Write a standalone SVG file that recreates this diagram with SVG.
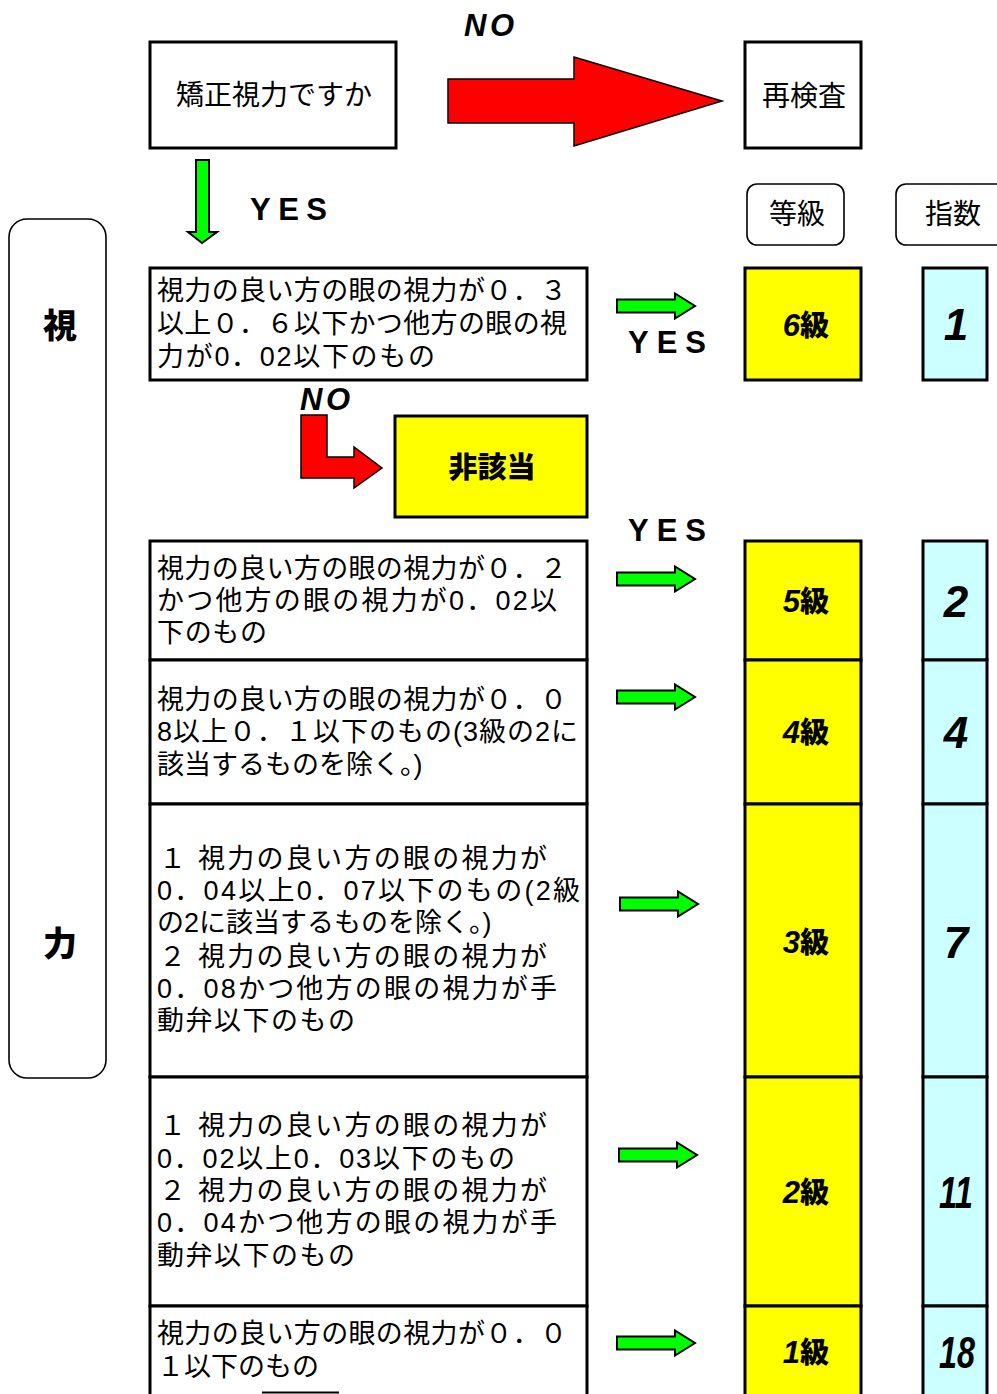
<svg xmlns="http://www.w3.org/2000/svg" width="997" height="1394" viewBox="0 0 997 1394">
<style>
.box{fill:#fff;stroke:#000;stroke-width:3}
.yel{fill:#ffff00;stroke:#000;stroke-width:3}
.cyan{fill:#ccffff;stroke:#000;stroke-width:3}
.rbox{fill:#fff;stroke:#000;stroke-width:1.6}
.t{font-family:"Liberation Sans","Noto Sans CJK JP",sans-serif;font-size:27px;fill:#000}
.h{font-family:"Noto Sans CJK JP","Noto Sans",sans-serif;font-size:28px;fill:#000;text-anchor:middle}
.g{font-family:"Noto Sans CJK JP","Noto Sans",sans-serif;font-size:29px;font-weight:900;fill:#000;text-anchor:middle}
.d{font-family:"Liberation Sans","Noto Sans",sans-serif;font-size:31px;font-weight:bold;font-style:italic}
.num{font-family:"Liberation Sans","Noto Sans",sans-serif;font-size:44px;font-weight:bold;font-style:italic;fill:#000;text-anchor:middle}
.yn{font-family:"Liberation Sans","Noto Sans",sans-serif;font-size:31px;font-weight:bold;fill:#000}
.green{fill:#00ff00;stroke:#000;stroke-width:2}
.red{fill:#ff0000;stroke:#000;stroke-width:1.5}
</style>
<defs>
<polygon id="garrow" points="0,-6.5 58,-6.5 58,-12.5 78,0 58,12.5 58,6.5 0,6.5" class="green"/>
</defs>

<g id="sidebar">
<rect x="9" y="219" width="97" height="859" rx="18" class="rbox"/>
<text x="60" y="338" class="g" style="font-size:34px">視</text>
<text x="60" y="956" class="g" style="font-size:34px">力</text>
</g>

<g id="start">
<rect x="150" y="42" width="246" height="106" class="box"/>
<text x="274" y="105" class="h">矯正視力ですか</text>
</g>

<g id="recheck">
<rect x="745" y="42" width="116" height="106" class="box"/>
<text x="804" y="106" class="h">再検査</text>
</g>

<g id="hdr-grade">
<rect x="747" y="184" width="97" height="61" rx="10" class="rbox"/>
<text x="797" y="224" class="h">等級</text>
</g>
<g id="hdr-index">
<rect x="896" y="184" width="112" height="61" rx="10" class="rbox"/>
<text x="953" y="224" class="h">指数</text>
</g>

<g id="c6">
<rect x="150" y="268" width="437" height="112" class="box"/>
<text class="t" x="157" y="300" textLength="410" lengthAdjust="spacing">視力の良い方の眼の視力が０．３</text>
<text class="t" x="157" y="333" textLength="410" lengthAdjust="spacing">以上０．６以下かつ他方の眼の視</text>
<text class="t" x="157" y="366" textLength="278" lengthAdjust="spacing">力が0．02以下のもの</text>
</g>
<g id="g6">
<rect x="745" y="268" width="116" height="112" class="yel"/>
<text x="806" y="336" class="g"><tspan class="d">6</tspan><tspan>級</tspan></text>
</g>
<g id="i6">
<rect x="923" y="268" width="64" height="112" class="cyan"/>
<text x="956" y="340" class="num">1</text>
</g>

<g id="na">
<rect x="395" y="416" width="192" height="101" class="yel"/>
<text x="492" y="478" class="g">非該当</text>
</g>

<g id="c5">
<rect x="150" y="541" width="437" height="119" class="box"/>
<text class="t" x="157" y="578" textLength="410" lengthAdjust="spacing">視力の良い方の眼の視力が０．２</text>
<text class="t" x="157" y="610" textLength="400" lengthAdjust="spacing">かつ他方の眼の視力が0．02以</text>
<text class="t" x="157" y="642" textLength="110" lengthAdjust="spacing">下のもの</text>
</g>
<g id="c4">
<rect x="150" y="660" width="437" height="144" class="box"/>
<text class="t" x="157" y="709" textLength="410" lengthAdjust="spacing">視力の良い方の眼の視力が０．０</text>
<text class="t" x="157" y="741" textLength="421" lengthAdjust="spacing">8以上０．１以下のもの(3級の2に</text>
<text class="t" x="157" y="774">該当するものを除く。)</text>
</g>
<g id="c3">
<rect x="150" y="804" width="437" height="273" class="box"/>
<text class="t" x="159" y="868" textLength="388" lengthAdjust="spacing">１ 視力の良い方の眼の視力が</text>
<text class="t" x="157" y="900" textLength="423" lengthAdjust="spacing">0．04以上0．07以下のもの(2級</text>
<text class="t" x="157" y="932">の2に該当するものを除く。)</text>
<text class="t" x="159" y="966" textLength="388" lengthAdjust="spacing">２ 視力の良い方の眼の視力が</text>
<text class="t" x="157" y="998" textLength="400" lengthAdjust="spacing">0．08かつ他方の眼の視力が手</text>
<text class="t" x="157" y="1030" textLength="198" lengthAdjust="spacing">動弁以下のもの</text>
</g>
<g id="c2">
<rect x="150" y="1077" width="437" height="229" class="box"/>
<text class="t" x="159" y="1135" textLength="388" lengthAdjust="spacing">１ 視力の良い方の眼の視力が</text>
<text class="t" x="157" y="1168" textLength="358" lengthAdjust="spacing">0．02以上0．03以下のもの</text>
<text class="t" x="159" y="1200" textLength="388" lengthAdjust="spacing">２ 視力の良い方の眼の視力が</text>
<text class="t" x="157" y="1232" textLength="400" lengthAdjust="spacing">0．04かつ他方の眼の視力が手</text>
<text class="t" x="157" y="1265" textLength="198" lengthAdjust="spacing">動弁以下のもの</text>
</g>
<g id="c1">
<rect x="150" y="1306" width="437" height="100" class="box"/>
<text class="t" x="157" y="1343" textLength="410" lengthAdjust="spacing">視力の良い方の眼の視力が０．０</text>
<text class="t" x="157" y="1376">１以下のもの</text>
</g>

<g id="g5"><rect x="745" y="541" width="116" height="119" class="yel"/><text x="806" y="612" class="g"><tspan class="d">5</tspan><tspan>級</tspan></text></g>
<g id="g4"><rect x="745" y="660" width="116" height="144" class="yel"/><text x="806" y="743" class="g"><tspan class="d">4</tspan><tspan>級</tspan></text></g>
<g id="g3"><rect x="745" y="804" width="116" height="273" class="yel"/><text x="806" y="953" class="g"><tspan class="d">3</tspan><tspan>級</tspan></text></g>
<g id="g2"><rect x="745" y="1077" width="116" height="229" class="yel"/><text x="806" y="1203" class="g"><tspan class="d">2</tspan><tspan>級</tspan></text></g>
<g id="g1"><rect x="745" y="1306" width="116" height="100" class="yel"/><text x="806" y="1363" class="g"><tspan class="d">1</tspan><tspan>級</tspan></text></g>

<g id="i5"><rect x="923" y="541" width="64" height="119" class="cyan"/><text x="956" y="617" class="num">2</text></g>
<g id="i4"><rect x="923" y="660" width="64" height="144" class="cyan"/><text x="956" y="748" class="num">4</text></g>
<g id="i3"><rect x="923" y="804" width="64" height="273" class="cyan"/><text x="956" y="958" class="num">7</text></g>
<g id="i2"><rect x="923" y="1077" width="64" height="229" class="cyan"/><text x="956" y="1208" class="num" textLength="34" lengthAdjust="spacingAndGlyphs">11</text></g>
<g id="i1"><rect x="923" y="1306" width="64" height="100" class="cyan"/><text x="957" y="1368" class="num" textLength="36" lengthAdjust="spacingAndGlyphs">18</text></g>

<g id="connectors">
<polygon class="red" points="448,79 574,79 574,57 722,101 574,146 574,123 448,123"/>
<text x="464" y="36" class="yn" font-style="italic" textLength="50" lengthAdjust="spacing">NO</text>
<polygon class="green" points="196,160 209,160 209,232 217,232 202,243 188,232 196,232"/>
<text x="250" y="220" class="yn" textLength="77" lengthAdjust="spacing">YES</text>
<use href="#garrow" x="617" y="306"/>
<text x="628" y="353" class="yn" textLength="78" lengthAdjust="spacing">YES</text>
<text x="300" y="410" class="yn" font-style="italic" textLength="50" lengthAdjust="spacing">NO</text>
<polygon class="red" points="301,415 327,415 327,457 354,457 354,447 382,468 354,488 354,478 301,478"/>
<text x="628" y="541" class="yn" textLength="78" lengthAdjust="spacing">YES</text>
<use href="#garrow" x="617" y="579"/>
<use href="#garrow" x="617" y="697"/>
<use href="#garrow" x="620" y="904"/>
<use href="#garrow" x="619" y="1155"/>
<use href="#garrow" x="617" y="1343"/>
</g>
<line x1="262" y1="1392.5" x2="339" y2="1392.5" stroke="#000" stroke-width="2"/>
</svg>
